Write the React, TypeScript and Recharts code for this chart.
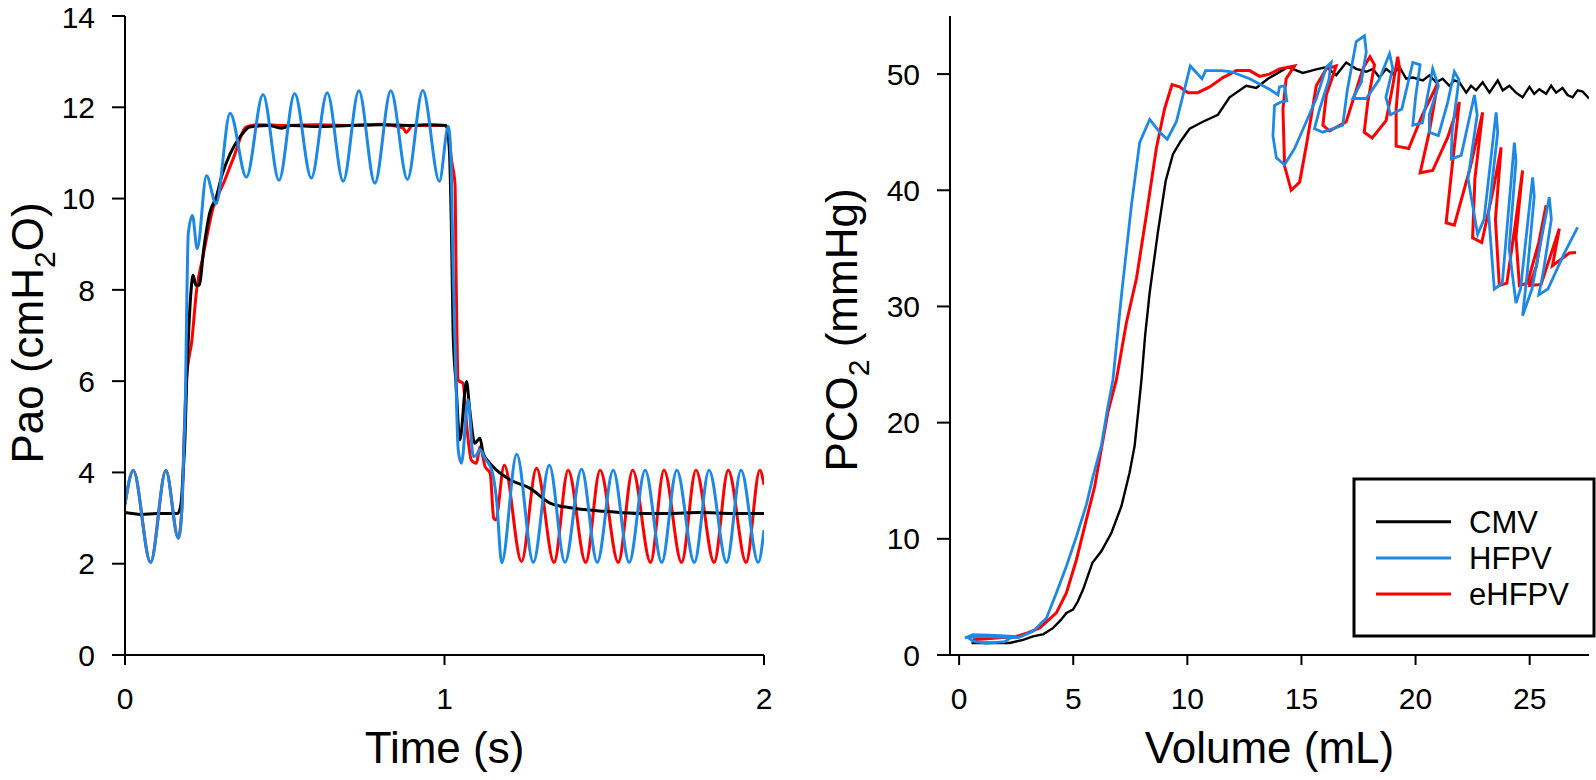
import React from "react";
import { LineChart, Line, XAxis, YAxis } from "recharts";

type Pt = [number, number];

// ─── Left panel: Pao (cmH2O) vs time (s) ─────────────────────────────────────

const CMV_PAO: Pt[] = [
  [0, 3.12], [0.05, 3.08], [0.1, 3.1], [0.165, 3.1], [0.175, 3.3], [0.182, 4.0],
  [0.188, 4.8], [0.193, 6.0], [0.2, 7.2], [0.207, 8.0], [0.213, 8.32], [0.222, 8.1],
  [0.232, 8.1], [0.247, 8.93], [0.265, 9.68], [0.286, 10.04], [0.302, 10.48],
  [0.329, 10.98], [0.36, 11.35], [0.391, 11.57], [0.45, 11.6], [0.49, 11.54],
  [0.52, 11.6], [0.6, 11.58], [0.7, 11.6], [0.8, 11.62], [0.9, 11.6], [0.95, 11.62],
  [1.005, 11.6], [1.015, 11.1], [1.022, 9.2], [1.027, 7.05], [1.036, 5.95],
  [1.048, 4.71], [1.069, 5.99], [1.079, 5.37], [1.095, 4.64], [1.111, 4.75],
  [1.121, 4.42], [1.137, 4.24], [1.163, 4.05], [1.205, 3.84], [1.268, 3.65],
  [1.33, 3.33], [1.4, 3.22], [1.444, 3.18], [1.5, 3.15], [1.612, 3.1], [1.7, 3.1],
  [1.8, 3.12], [1.9, 3.1], [2.0, 3.1],
];

const HFPV_PAO: Pt[] = [
  [0, 3.3], [0.026, 4.04], [0.08, 2.03], [0.128, 4.04], [0.167, 2.56], [0.178, 3.2],
  [0.184, 4.5], [0.189, 5.6], [0.194, 8.0], [0.198, 9.23], [0.211, 9.63], [0.226, 8.9],
  [0.255, 10.5], [0.285, 9.89], [0.329, 11.87], [0.38, 10.47], [0.432, 12.28],
  [0.482, 10.4], [0.531, 12.3], [0.583, 10.45], [0.633, 12.32], [0.683, 10.38],
  [0.732, 12.36], [0.782, 10.34], [0.832, 12.36], [0.884, 10.42], [0.932, 12.37],
  [0.984, 10.38], [1.012, 11.58], [1.02, 10.9], [1.027, 8.5], [1.036, 5.95],
  [1.043, 4.49], [1.053, 4.2], [1.074, 5.59], [1.09, 4.35], [1.1, 4.38], [1.111, 4.5],
  [1.127, 4.3], [1.148, 4.05], [1.163, 3.4], [1.179, 2.02], [1.226, 4.4], [1.278, 2.03],
  [1.328, 4.16], [1.377, 2.03], [1.429, 4.07], [1.478, 2.03], [1.528, 4.05],
  [1.578, 2.03], [1.628, 4.05], [1.68, 2.03], [1.727, 4.05], [1.782, 2.03],
  [1.828, 4.05], [1.883, 2.03], [1.928, 4.05], [1.982, 2.03], [2.0, 2.74],
];

const EHFPV_PAO: Pt[] = [
  [0, 3.3], [0.026, 4.04], [0.08, 2.03], [0.128, 4.04], [0.167, 2.56], [0.178, 3.2],
  [0.186, 5.0], [0.192, 6.0], [0.2, 6.5], [0.208, 6.82], [0.224, 7.99], [0.245, 8.76],
  [0.276, 9.8], [0.308, 10.33], [0.339, 10.88], [0.38, 11.57], [0.42, 11.62],
  [0.5, 11.6], [0.6, 11.62], [0.7, 11.6], [0.8, 11.63], [0.87, 11.55], [0.88, 11.45],
  [0.9, 11.6], [1.0, 11.6], [1.01, 11.55], [1.022, 10.84], [1.033, 10.3], [1.036, 8.5],
  [1.043, 6.02], [1.058, 5.95], [1.07, 5.0], [1.084, 4.27], [1.1, 4.2], [1.111, 4.56],
  [1.127, 4.13], [1.143, 3.98], [1.154, 3.0], [1.16, 2.96], [1.187, 4.16], [1.241, 2.05],
  [1.288, 4.09], [1.343, 2.03], [1.387, 4.05], [1.442, 2.03], [1.487, 4.05],
  [1.544, 2.03], [1.589, 4.05], [1.645, 2.03], [1.687, 4.05], [1.742, 2.03],
  [1.787, 4.05], [1.844, 2.03], [1.888, 4.05], [1.944, 2.03], [1.987, 4.05], [2.0, 3.73],
];

// ─── Right panel: PCO2 (mmHg) vs volume (mL) ─────────────────────────────────

const CMV_CO2: Pt[] = [
  [0.54, 1.03], [1.2, 1.05], [2.22, 1.03], [2.8, 1.3], [3.24, 1.6], [3.7, 1.8],
  [4.12, 2.33], [4.45, 3.0], [4.7, 3.62], [4.99, 3.9], [5.2, 4.6], [5.43, 5.63],
  [5.84, 7.93], [6.23, 8.93], [6.67, 10.5], [7.11, 12.8], [7.47, 15.7], [7.69, 18.0],
  [7.85, 21.0], [7.99, 23.7], [8.15, 27.5], [8.35, 31.2], [8.71, 36.4], [9.05, 40.8],
  [9.37, 43.1], [9.7, 44.2], [10.1, 45.3], [10.68, 45.9], [11.34, 46.5], [11.85, 48.0],
  [12.58, 49.0], [13.02, 48.8], [13.53, 49.6], [14.4, 50.6], [15.06, 50.1],
  [15.65, 50.4], [16.09, 50.6], [16.52, 49.9], [16.96, 51.0], [17.4, 50.45],
  [17.84, 50.2], [18.13, 50.45], [18.42, 49.7], [18.71, 50.45], [19.0, 50.0],
  [19.3, 50.6], [19.59, 49.6], [19.88, 49.7], [20.32, 49.45], [20.61, 49.9],
  [20.9, 49.3], [21.19, 49.6], [21.48, 49.0], [21.7, 49.45], [21.92, 49.3],
  [22.22, 48.4], [22.43, 49.0], [22.65, 48.6], [22.94, 49.3], [23.24, 48.4],
  [23.6, 49.45], [23.82, 48.6], [24.11, 49.0], [24.4, 48.4], [24.69, 48.0],
  [24.99, 48.9], [25.2, 48.3], [25.42, 48.7], [25.72, 48.3], [25.94, 49.0],
  [26.16, 48.4], [26.44, 48.8], [26.66, 48.2], [26.88, 48.0], [27.1, 48.6],
  [27.32, 48.5], [27.6, 47.9],
];

const HFPV_CO2: Pt[] = [
  [0.25, 1.46], [0.6, 1.75], [1.3, 1.7], [1.8, 1.66], [2.36, 1.6], [2.0, 1.15],
  [1.2, 1.0], [0.6, 1.2], [0.4, 1.5], [0.9, 1.6], [1.8, 1.55], [2.6, 1.5],
  [3.24, 2.04], [3.83, 3.19], [4.26, 5.34], [4.7, 7.64], [5.14, 10.2], [5.58, 12.96],
  [5.87, 15.4], [6.23, 18.0], [6.52, 21.4], [6.74, 23.7], [7.11, 30.9], [7.55, 38.7],
  [7.91, 44.1], [8.35, 46.1], [8.79, 45.0], [9.12, 44.4], [9.52, 45.9], [10.13, 50.7],
  [10.64, 49.6], [10.8, 50.3], [11.49, 50.3], [11.93, 50.2], [12.73, 49.6],
  [13.6, 48.7], [13.97, 48.2], [14.04, 48.9], [14.26, 49.0], [14.36, 47.7],
  [14.1, 47.6], [13.82, 47.3], [13.75, 44.7], [13.9, 42.8], [14.26, 42.2],
  [14.7, 43.6], [15.21, 45.9], [15.65, 47.9], [16.09, 50.6], [16.3, 51.0],
  [16.2, 49.5], [15.8, 47.0], [15.57, 45.3], [15.94, 45.0], [16.81, 45.6],
  [17.0, 48.5], [17.4, 52.8], [17.76, 53.3], [17.84, 51.9], [17.62, 49.3],
  [17.25, 47.9], [17.84, 47.9], [18.4, 49.5], [18.86, 51.75], [19.0, 50.5],
  [18.7, 48.0], [18.9, 46.5], [19.4, 47.0], [19.88, 51.0], [20.2, 50.8],
  [20.0, 48.0], [19.88, 45.6], [20.3, 45.8], [20.75, 50.45], [21.0, 49.0],
  [20.6, 46.5], [20.61, 45.0], [21.0, 44.7], [21.4, 47.5], [21.7, 50.2],
  [21.9, 49.5], [21.6, 45.0], [21.56, 42.7], [22.0, 43.0], [22.58, 48.2], [22.7, 46.5],
  [22.3, 41.0], [22.72, 36.2], [23.0, 37.5], [23.53, 46.7], [23.6, 45.0], [23.2, 38.0],
  [23.45, 31.5], [23.8, 32.0], [24.33, 44.1], [24.4, 42.5], [24.1, 35.0],
  [24.4, 30.3], [24.6, 31.5], [25.13, 41.1], [25.2, 39.5], [24.9, 33.0],
  [24.69, 29.2], [25.1, 31.5], [25.86, 39.4], [25.95, 37.5], [25.6, 33.0],
  [25.4, 31.0], [25.8, 31.5], [26.5, 34.5], [27.1, 36.8],
];

const EHFPV_CO2: Pt[] = [
  [0.61, 1.32], [1.5, 1.45], [2.51, 1.6], [3.0, 1.9], [3.53, 2.33], [4.26, 3.62],
  [4.7, 5.34], [5.14, 8.2], [5.58, 11.7], [5.94, 14.5], [6.23, 17.7], [6.52, 20.9],
  [6.89, 23.7], [7.33, 28.6], [7.77, 32.4], [8.2, 37.8], [8.64, 43.6], [9.0, 47.0],
  [9.33, 49.1], [9.66, 48.9], [10.03, 48.4], [10.46, 48.4], [10.98, 48.9],
  [11.56, 49.7], [12.15, 50.3], [12.73, 50.3], [13.17, 49.8], [13.6, 50.0],
  [14.04, 50.45], [14.7, 50.7], [14.33, 49.6], [14.19, 47.0], [14.26, 42.1],
  [14.55, 40.0], [14.92, 40.7], [15.21, 43.8], [15.43, 46.4], [15.65, 49.0],
  [16.09, 50.45], [16.52, 50.7], [16.09, 48.2], [15.94, 45.6], [16.23, 45.1],
  [16.96, 45.9], [17.3, 48.0], [17.7, 50.5], [18.0, 51.5], [18.2, 50.8], [17.9, 47.5],
  [17.75, 45.0], [18.1, 44.5], [18.71, 46.0], [19.0, 49.0], [19.22, 51.5],
  [19.3, 50.5], [19.15, 47.0], [19.15, 43.8], [19.7, 43.6], [20.3, 46.5],
  [20.97, 49.2], [20.6, 45.0], [20.2, 41.5], [20.75, 41.7], [21.4, 44.5],
  [21.92, 47.6], [21.6, 42.0], [21.34, 37.2], [21.7, 37.0], [22.4, 42.0],
  [22.94, 46.7], [22.6, 41.0], [22.5, 35.9], [22.9, 35.5], [23.4, 40.0],
  [23.75, 43.7], [23.5, 37.5], [23.67, 31.8], [24.0, 32.0], [24.4, 37.5],
  [24.69, 41.7], [24.4, 36.0], [24.55, 31.8], [24.9, 32.0], [25.4, 35.5],
  [25.72, 38.7], [25.3, 33.5], [25.0, 31.8], [25.5, 31.9], [26.3, 36.7],
  [26.0, 33.5], [26.74, 34.6], [27.03, 34.65],
];

const TIME_TICKS = [0, 1, 2];
const PAO_TICKS = [0, 2, 4, 6, 8, 10, 12, 14];
const VOL_TICKS = [0, 5, 10, 15, 20, 25];
const PCO2_TICKS = [0, 10, 20, 30, 40, 50];

const LEGEND = [
  { name: "CMV", color: "#000000" },
  { name: "HFPV", color: "#1e88e5" },
  { name: "eHFPV", color: "#ff0000" },
];

// ─── Styling ─────────────────────────────────────────────────────────────────

const FONT = '"Liberation Sans", Arial, Helvetica, sans-serif';
const BLACK = "#000000";
const BLUE = "#1e88e5";
const RED = "#ff0000";

const rows = (pts: Pt[]) => pts.map(([x, y]) => ({ x, y }));

const tickStyle = { fill: "#000", fontSize: 30, fontFamily: FONT };
const axisLine = { stroke: "#000", strokeWidth: 2 };

function Panel({
  left,
  width,
  marginRight,
  yAxisWidth,
  xDomain,
  yDomain,
  xTicks,
  yTicks,
  series,
  curve,
}: {
  left: number;
  width: number;
  marginRight: number;
  yAxisWidth: number;
  xDomain: [number, number];
  yDomain: [number, number];
  xTicks: number[];
  yTicks: number[];
  series: { pts: Pt[]; color: string; w: number }[];
  curve: "monotone" | "linear";
}) {
  return (
    <div style={{ position: "absolute", left, top: 0 }}>
      <LineChart
        width={width}
        height={780}
        margin={{ top: 16, right: marginRight, bottom: 65, left: 0 }}
      >
        <XAxis
          dataKey="x"
          type="number"
          domain={xDomain}
          ticks={xTicks}
          allowDataOverflow
          height={60}
          tickSize={10}
          tickMargin={23}
          axisLine={axisLine}
          tickLine={axisLine}
          tick={tickStyle}
        />
        <YAxis
          type="number"
          domain={yDomain}
          ticks={yTicks}
          allowDataOverflow
          width={yAxisWidth}
          tickSize={13}
          tickMargin={17}
          axisLine={axisLine}
          tickLine={axisLine}
          tick={tickStyle}
        />
        {series.map((s, i) => (
          <Line
            key={i}
            data={rows(s.pts)}
            dataKey="y"
            type={curve}
            stroke={s.color}
            strokeWidth={s.w}
            dot={false}
            activeDot={false}
            isAnimationActive={false}
          />
        ))}
      </LineChart>
    </div>
  );
}

export default function App() {
  return (
    <div
      style={{
        position: "absolute",
        left: 0,
        top: 0,
        width: 1596,
        height: 780,
        background: "#fff",
        fontFamily: FONT,
      }}
    >
      <Panel
        left={0}
        width={800}
        marginRight={36}
        yAxisWidth={125}
        xDomain={[0, 2]}
        yDomain={[0, 14]}
        xTicks={TIME_TICKS}
        yTicks={PAO_TICKS}
        curve="monotone"
        series={[
          { pts: EHFPV_PAO, color: RED, w: 3 },
          { pts: CMV_PAO, color: BLACK, w: 3 },
          { pts: HFPV_PAO, color: BLUE, w: 3 },
        ]}
      />
      <Panel
        left={800}
        width={796}
        marginRight={7}
        yAxisWidth={150}
        xDomain={[-0.4, 27.6]}
        yDomain={[0, 55]}
        xTicks={VOL_TICKS}
        yTicks={PCO2_TICKS}
        curve="linear"
        series={[
          { pts: CMV_CO2, color: BLACK, w: 2.4 },
          { pts: EHFPV_CO2, color: RED, w: 3 },
          { pts: HFPV_CO2, color: BLUE, w: 2.8 },
        ]}
      />

      {/* titles, axis stubs and legend */}
      <svg
        width={1596}
        height={780}
        style={{ position: "absolute", left: 0, top: 0, pointerEvents: "none" }}
        fontFamily={FONT}
      >
        <line x1={112} x2={125} y1={655} y2={655} stroke="#000" strokeWidth={2} />
        <line x1={937} x2={950} y1={655} y2={655} stroke="#000" strokeWidth={2} />

        <text x={444.5} y={763} fontSize={44} textAnchor="middle">Time (s)</text>
        <text x={1269.5} y={763} fontSize={44} textAnchor="middle">Volume (mL)</text>

        <text transform="translate(43,333) rotate(-90)" fontSize={44} textAnchor="middle">
          Pao (cmH<tspan dy={12} fontSize={30}>2</tspan>
          <tspan dy={-12}>O)</tspan>
        </text>
        <text transform="translate(857,330) rotate(-90)" fontSize={44} textAnchor="middle">
          PCO<tspan dy={12} fontSize={30}>2</tspan>
          <tspan dy={-12}> (mmHg)</tspan>
        </text>

        <rect x={1354} y={479} width={240} height={157} fill="#fff" stroke="#000" strokeWidth={3} />
        {LEGEND.map((l, i) => {
          const y = 521.7 + i * 36.2;
          return (
            <g key={l.name}>
              <line x1={1376} x2={1451} y1={y} y2={y} stroke={l.color} strokeWidth={3} />
              <text x={1469} y={y + 11} fontSize={31}>{l.name}</text>
            </g>
          );
        })}
      </svg>
    </div>
  );
}
